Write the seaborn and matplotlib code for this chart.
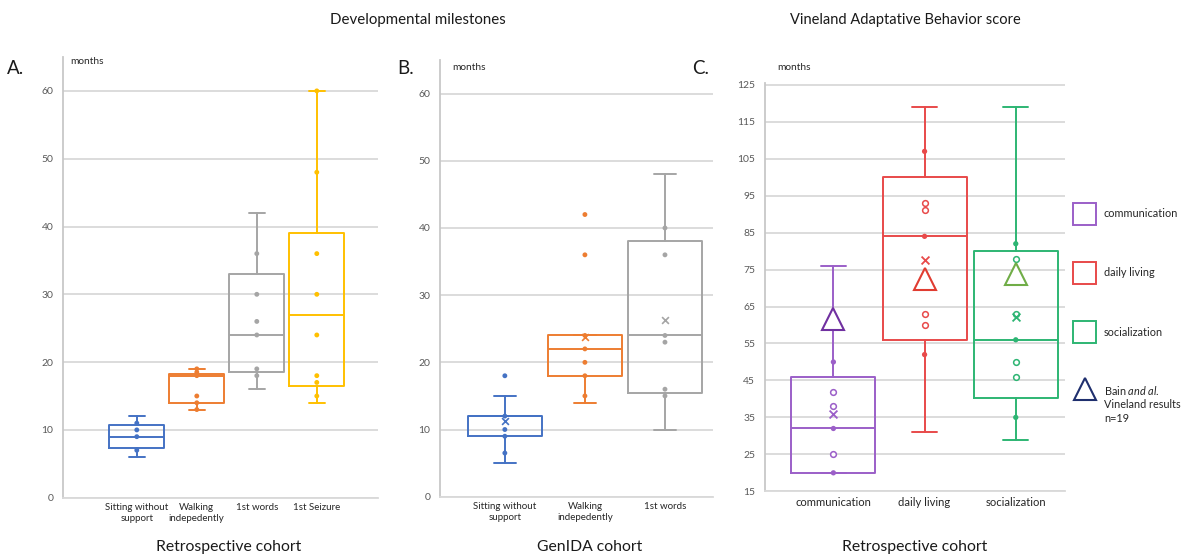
import numpy as np
import pandas as pd
import matplotlib
matplotlib.use("Agg")
import matplotlib.pyplot as plt
import seaborn as sns
from matplotlib.patches import Rectangle

sns.set_theme(style="white")
plt.rcParams['font.family'] = ['Lato', 'DejaVu Sans']
plt.rcParams['mathtext.fontset'] = 'custom'
plt.rcParams['mathtext.rm'] = 'Lato'
plt.rcParams['mathtext.it'] = 'Lato:italic'

# ---------------- Panel A: Retrospective cohort, developmental milestones
a_cats = ["Sitting without\nsupport", "Walking\nindepedently", "1st words", "1st Seizure"]
a_colors = ["#4472C4", "#ED7D31", "#A5A5A5", "#FFC000"]
a_whislo = [6, 13, 16, 14]
a_q1 = [7.4, 14, 18.5, 16.5]
a_med = [8.9, 18, 24, 27]
a_q3 = [10.7, 18.3, 33, 39]
a_whishi = [12, 19, 42, 60]
a_points = [[7, 9, 10, 11],
            [13, 14, 15, 18, 18.5, 19],
            [18, 19, 24, 26, 30, 36],
            [15, 17, 18, 24, 30, 36, 48, 60]]

# ---------------- Panel B: GenIDA cohort
b_cats = ["Sitting without\nsupport", "Walking\nindepedently", "1st words"]
b_colors = ["#4472C4", "#ED7D31", "#A5A5A5"]
b_whislo = [5, 14, 10]
b_q1 = [9, 18, 15.5]
b_med = [12, 22, 24]
b_q3 = [12, 24, 38]
b_whishi = [15, 24, 48]
b_points = [[6.5, 9, 10, 12, 18],
            [15, 18, 20, 22, 24, 36, 42],
            [15, 16, 23, 24, 36, 40]]
b_means = [11.3, 23.7, 26.3]

# ---------------- Panel C: Vineland
c_cats = ["communication", "daily living", "socialization"]
c_colors = ["#9B5FC8", "#E84A4A", "#2DB573"]
c_whislo = [20, 31, 29]
c_q1 = [20, 56, 40.3]
c_med = [32, 84, 56]
c_q3 = [46, 100, 80]
c_whishi = [76, 119, 119]
c_filled = [[20, 32, 50], [52, 84, 107], [35, 56, 82]]
c_open = [[25, 38, 42], [60, 63, 91, 93], [46, 50, 63, 78]]
c_means = [35.8, 77.7, 62.1]
bain_vals = [61.6, 72.4, 73.7]
bain_colors = ["#7030A0", "#E03C31", "#70AD47"]
legend_labels = ["communication", "daily living", "socialization"]

W, H = 1184, 555
fig = plt.figure(figsize=(W / 100, H / 100), dpi=100)

GRID = "#D9D9D9"
SPINE = "#C8C8C8"
TICKC = "#595959"


def style_axes(ax, ylim, yticks, xlim, xfs):
    ax.set_ylim(*ylim)
    ax.set_xlim(*xlim)
    ax.set_yticks(yticks)
    ax.set_axisbelow(True)
    ax.yaxis.grid(True, color=GRID, lw=1.3)
    ax.xaxis.grid(False)
    for s in ["top", "right"]:
        ax.spines[s].set_visible(False)
    ax.spines["left"].set_color(SPINE)
    ax.spines["left"].set_linewidth(1.3)
    ax.spines["bottom"].set_color(GRID)
    ax.spines["bottom"].set_linewidth(1.3)
    ax.tick_params(axis="both", length=0)
    ax.tick_params(axis="y", labelsize=7.5, labelcolor=TICKC, pad=7)
    ax.tick_params(axis="x", labelsize=xfs, labelcolor="#262626", pad=4)
    ax.set_xlabel("")
    ax.set_ylabel("")
    ax.set_facecolor("none")


def draw_boxes(ax, cats, colors, wl, q1, med, q3, wh, width=0.92, capw=0.27, lw=1.4):
    stats = [dict(whislo=a, q1=b, med=c, q3=d, whishi=e, fliers=[])
             for a, b, c, d, e in zip(wl, q1, med, q3, wh)]
    bp = ax.bxp(stats, positions=list(range(len(cats))), widths=width,
                capwidths=capw, showfliers=False, manage_ticks=False)
    for i, c in enumerate(colors):
        bp["boxes"][i].set(color=c, lw=lw)
        bp["medians"][i].set(color=c, lw=lw)
        for k in (2 * i, 2 * i + 1):
            bp["whiskers"][k].set(color=c, lw=lw)
            bp["caps"][k].set(color=c, lw=lw)


def long_df(cats, values):
    rows = [(c, v) for c, vs in zip(cats, values) for v in vs]
    return pd.DataFrame(rows, columns=["cat", "val"])


# ---------------- Axes A
axA = fig.add_axes([63 / W, 1 - 497.7 / H, 315 / W, (497.7 - 57) / H])
sns.stripplot(data=long_df(a_cats, a_points), x="cat", y="val", hue="cat",
              order=a_cats, hue_order=a_cats, palette=a_colors, jitter=False,
              size=3.5, linewidth=0, legend=False, ax=axA, zorder=5)
draw_boxes(axA, a_cats, a_colors, a_whislo, a_q1, a_med, a_q3, a_whishi)
style_axes(axA, (0, 65), np.arange(0, 61, 10), (-1.23, 4.02), 7)

# ---------------- Axes B
axB = fig.add_axes([440 / W, 1 - 496.7 / H, 273 / W, (496.7 - 60) / H])
sns.stripplot(data=long_df(b_cats, b_points), x="cat", y="val", hue="cat",
              order=b_cats, hue_order=b_cats, palette=b_colors, jitter=False,
              size=3.5, linewidth=0, legend=False, ax=axB, zorder=5)
draw_boxes(axB, b_cats, b_colors, b_whislo, b_q1, b_med, b_q3, b_whishi)
for i, (m, c) in enumerate(zip(b_means, b_colors)):
    axB.scatter(i, m, marker="x", s=24, color=c, lw=1.2, zorder=6)
style_axes(axB, (0, 65), np.arange(0, 61, 10), (-0.81, 2.6), 7)

# ---------------- Axes C
axC = fig.add_axes([765 / W, 1 - 491.3 / H, 300 / W, (491.3 - 83) / H])
sns.stripplot(data=long_df(c_cats, c_filled), x="cat", y="val", hue="cat",
              order=c_cats, hue_order=c_cats, palette=c_colors, jitter=False,
              size=3.8, linewidth=0, legend=False, ax=axC, zorder=5)
draw_boxes(axC, c_cats, c_colors, c_whislo, c_q1, c_med, c_q3, c_whishi)
for i, (vals, c) in enumerate(zip(c_open, c_colors)):
    axC.scatter([i] * len(vals), vals, marker="o", s=17, facecolors="white",
                edgecolors=c, lw=1.1, zorder=6)
for i, (m, c) in enumerate(zip(c_means, c_colors)):
    axC.scatter(i, m, marker="x", s=32, color=c, lw=1.3, zorder=6)
for i, (v, c) in enumerate(zip(bain_vals, bain_colors)):
    axC.plot(i, v, marker="^", ms=16, mfc="white", mec=c, mew=1.5, zorder=7)
style_axes(axC, (15, 125.5), np.arange(15, 126, 10), (-0.75, 2.54), 8.1)

# ---------------- Overlay for free text and legend
ov = fig.add_axes([0, 0, 1, 1], zorder=20)
ov.set_xlim(0, W)
ov.set_ylim(H, 0)
ov.axis("off")
ov.set_facecolor("none")

ov.text(418, 20, "Developmental milestones", ha="center", va="center", fontsize=10.8, color="#1a1a1a")
ov.text(905, 20, "Vineland Adaptative Behavior score", ha="center", va="center", fontsize=10.5, color="#1a1a1a")
ov.text(229, 547, "Retrospective cohort", ha="center", va="center", fontsize=11.3, color="#1a1a1a")
ov.text(590, 547, "GenIDA cohort", ha="center", va="center", fontsize=11.3, color="#1a1a1a")
ov.text(915, 547, "Retrospective cohort", ha="center", va="center", fontsize=11.3, color="#1a1a1a")

for x, y, t in [(7, 69, "A."), (397, 68, "B."), (692, 69, "C.")]:
    ov.text(x, y, t, ha="left", va="center", fontsize=13.5, color="#1a1a1a")
for x, y in [(70, 62), (452, 67), (777, 67)]:
    ov.text(x, y, "months", ha="left", va="center", fontsize=7.3, color="#262626")

# Legend
sq_y = [213.5, 273, 332]
for y, c, lab in zip(sq_y, c_colors, legend_labels):
    ov.add_patch(Rectangle((1073, y - 11), 23, 22, fill=False, ec=c, lw=1.4))
    ov.text(1104, y, lab, ha="left", va="center", fontsize=7.8, color="#262626")
ov.plot(1084.5, 389, marker="^", ms=16, mfc="white", mec="#1F2F6E", mew=1.5)
ov.text(1104, 390.5, r"Bain $\mathit{and\ al.}$", ha="left", va="center", fontsize=7.8, color="#262626")
ov.text(1104, 405, "Vineland results", ha="left", va="center", fontsize=7.8, color="#262626")
ov.text(1104, 418.5, "n=19", ha="left", va="center", fontsize=7.8, color="#262626")

fig.savefig("out.png", dpi=100, facecolor="white")
